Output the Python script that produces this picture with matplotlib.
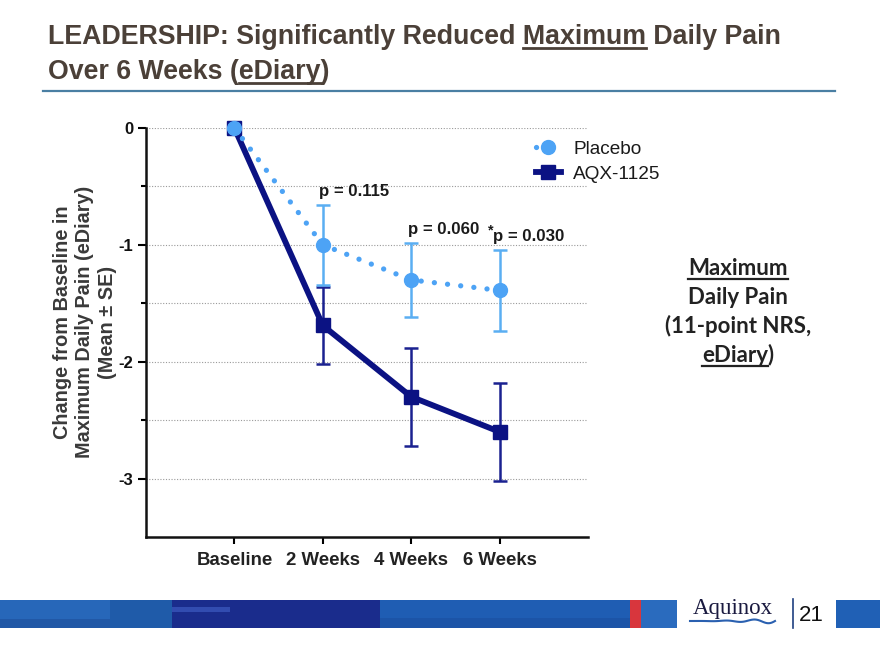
import numpy as np
import matplotlib
matplotlib.use("Agg")
import matplotlib.pyplot as plt
from matplotlib import font_manager
from matplotlib.patches import Rectangle
from matplotlib.lines import Line2D

# ---------------- data ----------------
timepoints = ["Baseline", "2 Weeks", "4 Weeks", "6 Weeks"]
placebo_mean = [0.0, -1.00, -1.30, -1.39]
placebo_se = [0.0, 0.34, 0.32, 0.35]
aqx_mean = [0.0, -1.69, -2.30, -2.60]
aqx_se = [0.0, 0.33, 0.42, 0.42]
p_labels = ["p = 0.115", "p = 0.060", "p = 0.030"]
p_star = [False, False, True]
y_ticks = [0, -1, -2, -3]
series_names = ["Placebo", "AQX-1125"]

# ---------------- style ----------------
names = {f.name for f in font_manager.fontManager.ttflist}
SANS = "Liberation Sans" if "Liberation Sans" in names else "DejaVu Sans"
RIGHT = "Lato" if "Lato" in names else SANS
plt.rcParams["font.family"] = [SANS, "DejaVu Sans"]

PLACEBO_C = "#4DA3F5"
PLACEBO_EC = "#5AAEF2"
AQX_C = "#0B1283"
AQX_EC = "#1A2190"
TITLE_C = "#4B4038"

W, H = 880, 660
fig = plt.figure(figsize=(W / 100, H / 100), dpi=100)
fig.patch.set_facecolor("white")
renderer = fig.canvas.get_renderer()


def fx(px):
    return px / W


def fy(py):
    return 1 - py / H


def text_w(s, **kw):
    t = fig.text(0, 0, s, **kw)
    w = t.get_window_extent(renderer).width
    t.remove()
    return w


def fit_size(s, target, ref=12, **kw):
    return ref * target / text_w(s, fontsize=ref, **kw)


def underlined_line(x0, ybase, pieces, color, lw, off, **kw):
    full = "".join(p for p, _ in pieces)
    fig.text(fx(x0), fy(ybase), full, ha="left", va="baseline", color=color, **kw)
    prefix = ""
    for p, u in pieces:
        if u:
            wtot = text_w(prefix + p, **kw)
            wp = text_w(p, **kw)
            xs = x0 + wtot - wp
            xe = x0 + wtot
            fig.add_artist(Line2D([fx(xs), fx(xe)], [fy(ybase + off)] * 2,
                                  transform=fig.transFigure, color=color, lw=lw))
        prefix += p
    return full


# ---------------- title ----------------
title1 = [("LEADERSHIP: Significantly Reduced ", False), ("Maximum", True), (" Daily Pain", False)]
title2 = [("Over 6 Weeks (", False), ("eDiary", True), (")", False)]
tkw = dict(fontfamily=SANS, fontweight="bold")
tsize = fit_size("".join(p for p, _ in title1), 732, **tkw)
underlined_line(48, 44, title1, TITLE_C, 2.0, 4, fontsize=tsize, **tkw)
underlined_line(48, 79, title2, TITLE_C, 2.0, 4, fontsize=tsize, **tkw)
fig.add_artist(Line2D([fx(43), fx(835)], [fy(90.5)] * 2, transform=fig.transFigure,
                      color="#4A7FA3", lw=1.6))

# ---------------- axes ----------------
ax = fig.add_axes([fx(146), fy(537), fx(588) - fx(146), (537 - 128) / H])
x = np.arange(len(timepoints))
ax.set_xlim(-1, 4)
ax.set_ylim(-3.5, 0)

for s in ["top", "right"]:
    ax.spines[s].set_visible(False)
for s in ["left", "bottom"]:
    ax.spines[s].set_linewidth(1.8)
    ax.spines[s].set_color("#111111")

xt_size = fit_size("Baseline", 76, fontweight="bold")
ax.set_yticks(y_ticks)
ax.set_yticklabels([f"{v:d}" if v == 0 else f"-{abs(v):d}" for v in y_ticks])
ax.set_yticks(np.arange(-3, 0.01, 0.5), minor=True)
ax.set_xticks(x)
ax.set_xticklabels(timepoints)
ax.tick_params(axis="y", which="major", length=6, width=1.5, pad=3, labelsize=12,
               labelcolor="#111111")
ax.tick_params(axis="y", which="minor", length=3.5, width=1.5)
ax.tick_params(axis="x", which="major", length=5, width=1.5, pad=6, labelsize=xt_size,
               labelcolor="#222222")
for lab in ax.get_xticklabels() + ax.get_yticklabels():
    lab.set_fontweight("bold")

ax.grid(True, axis="y", which="both", linestyle=(0, (1, 1.5)), color="#9A9A9A", lw=0.8)
ax.set_axisbelow(True)

# AQX-1125
ax.errorbar(x[1:], aqx_mean[1:], yerr=aqx_se[1:], fmt="none", ecolor=AQX_EC,
            elinewidth=1.8, capsize=5, capthick=1.8, zorder=3)
aqx_line, = ax.plot(x, aqx_mean, color=AQX_C, lw=4.2, marker="s", markersize=10.5,
                    markerfacecolor=AQX_C, markeredgecolor=AQX_C, zorder=4, clip_on=False,
                    solid_joinstyle="round")

# Placebo
ax.errorbar(x[1:], placebo_mean[1:], yerr=placebo_se[1:], fmt="none", ecolor=PLACEBO_EC,
            elinewidth=1.8, capsize=5, capthick=1.8, zorder=5)
pl_line, = ax.plot(x, placebo_mean, color=PLACEBO_C, lw=3.8, linestyle=(0, (0.01, 2.5)),
                   dash_capstyle="round", zorder=6, clip_on=False)
ax.plot(x, placebo_mean, linestyle="none", marker="o", markersize=10,
        color=PLACEBO_C, zorder=7, clip_on=False)
pl_handle = Line2D([], [], color=PLACEBO_C, lw=3.8, linestyle=(0, (0.01, 2.5)),
                   dash_capstyle="round", marker="o", markersize=10)

# p-value labels
p_size = fit_size("p = 0.115", 70, fontweight="bold")
for i, (lab, star) in enumerate(zip(p_labels, p_star), start=1):
    top = placebo_mean[i] + placebo_se[i]
    xx = i - 0.04 if not star else i - 0.07
    ax.text(xx, top + 0.115, lab, ha="left", va="center", fontsize=p_size,
            fontweight="bold", color="#1A1A1A", zorder=8)
    if star:
        ax.text(xx - 0.005, top + 0.16, "*", ha="right", va="center", fontsize=p_size * 0.85,
                fontweight="bold", color="#1A1A1A", zorder=8)

# legend
leg_size = fit_size("Placebo", 69)
leg = fig.legend([pl_handle, aqx_line], series_names, loc="center left",
                 bbox_to_anchor=(fx(536), fy(161.5)), frameon=False, fontsize=leg_size,
                 handlelength=1.3, handletextpad=0.65, labelspacing=0.42,
                 borderaxespad=0, borderpad=0)
for t in leg.get_texts():
    t.set_color("#1A1A1A")

# y label
yl_size = fit_size("Change from Baseline in", 231, fontweight="bold")
fig.text(fx(85), fy(322), "Change from Baseline in\nMaximum Daily Pain (eDiary)\n(Mean ± SE)",
         rotation=90, ha="center", va="center", fontsize=yl_size, fontweight="bold",
         color="#3A3A3A", linespacing=1.2, multialignment="center")

# right annotation
rkw = dict(fontfamily=RIGHT, fontweight="bold")
rsize = fit_size("(11-point NRS,", 146, **rkw)
xc = 738
right_lines = [
    ([("Maximum", True)], 275),
    ([("Daily Pain", False)], 304),
    ([("(11-point NRS,", False)], 333),
    ([("eDiary", True), (")", False)], 362),
]
for pieces, yb in right_lines:
    full = "".join(p for p, _ in pieces)
    wl = text_w(full, fontsize=rsize, **rkw)
    underlined_line(xc - wl / 2, yb, pieces, "#222222", 1.6, 3.5, fontsize=rsize, **rkw)

# ---------------- footer banner ----------------
segs = [
    (0, 110, "#2767B9"), (110, 172, "#1F5BA9"), (172, 380, "#1A2C8C"),
    (380, 630, "#1F5DB3"), (630, 641, "#D8363D"), (641, 677, "#2A6BBE"),
    (836, 880, "#2060B5"),
]
for x0, x1, c in segs:
    fig.add_artist(Rectangle((fx(x0), fy(628)), fx(x1) - fx(x0), 28 / H,
                             transform=fig.transFigure, color=c, lw=0))
fig.add_artist(Rectangle((fx(172), fy(612)), fx(230) - fx(172), 5 / H,
                         transform=fig.transFigure, color="#3D5BC0", lw=0, alpha=0.7))
fig.add_artist(Rectangle((fx(0), fy(628)), fx(110), 9 / H,
                         transform=fig.transFigure, color="#1E4F9A", lw=0, alpha=0.6))
fig.add_artist(Rectangle((fx(380), fy(628)), fx(630) - fx(380), 10 / H,
                         transform=fig.transFigure, color="#1A4F9F", lw=0, alpha=0.6))

fig.text(fx(733), fy(614), "Aquinox", ha="center", va="baseline", fontsize=16.5,
         fontfamily=["Liberation Serif", "DejaVu Serif"], color="#1A1A40")
wx = np.linspace(fx(690), fx(775), 60)
wy = fy(621) + (np.linspace(0, 1, 60) ** 2) * 0.004 * np.sin(np.linspace(0, 6 * np.pi, 60))
fig.add_artist(Line2D(wx, wy, transform=fig.transFigure, color="#2A60B0", lw=1.5))
fig.add_artist(Line2D([fx(793)] * 2, [fy(599), fy(628)], transform=fig.transFigure,
                      color="#1F3F80", lw=1.2))
fig.text(fx(799), fy(621), "21", ha="left", va="baseline", fontsize=16, color="#111111")

fig.savefig("out.png", dpi=100, facecolor="white")
